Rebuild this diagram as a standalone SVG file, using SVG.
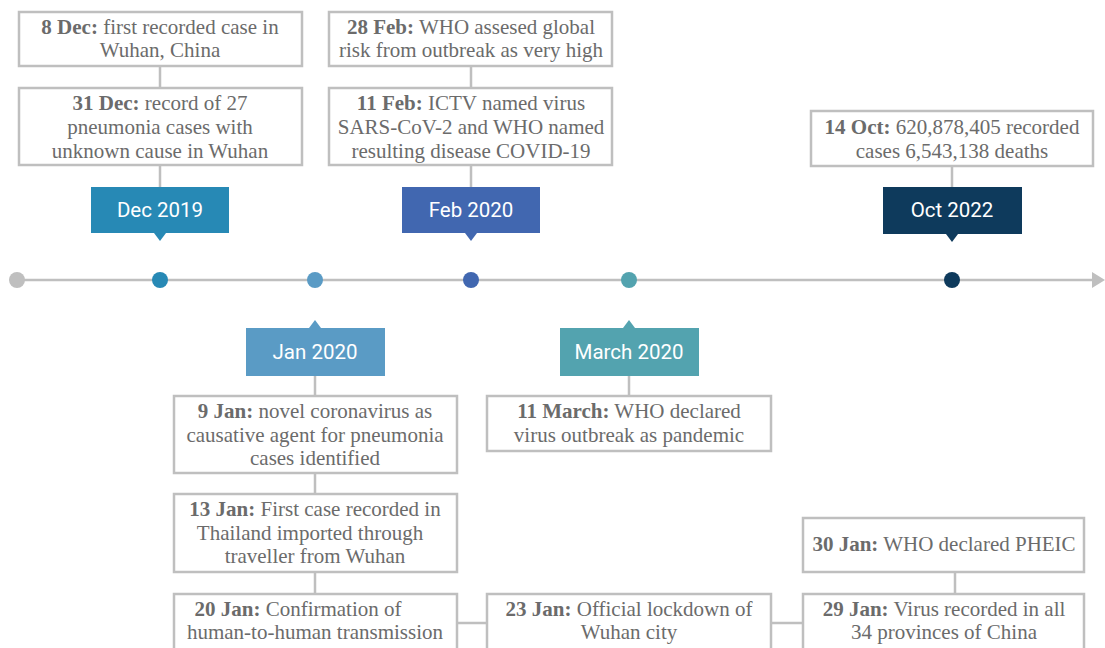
<svg xmlns="http://www.w3.org/2000/svg" width="1105" height="648" viewBox="0 0 1105 648">
<style>
.box{fill:#fff;stroke:#bfbfbf;stroke-width:2.5}
.ev{font-family:"Liberation Serif",serif;font-size:21px;fill:#6b6b6b;text-anchor:middle}
.ev tspan.b{font-weight:bold}
.lbl{font-family:Roboto,"Liberation Sans",sans-serif;font-size:20.5px;fill:#fff;text-anchor:middle}
.conn{stroke:#bfbfbf;stroke-width:2.5;fill:none}
</style>
<rect width="1105" height="648" fill="#fff"/>
<g id="connectors">
<line class="conn" x1="17" y1="280" x2="1094" y2="280" stroke-width="3"/>
<polygon points="1092,272 1105,280 1092,288" fill="#bfbfbf"/>
<line class="conn" x1="160" y1="66" x2="160" y2="88"/>
<line class="conn" x1="160" y1="165" x2="160" y2="187"/>
<line class="conn" x1="471" y1="66" x2="471" y2="88"/>
<line class="conn" x1="471" y1="165" x2="471" y2="187"/>
<line class="conn" x1="952" y1="166" x2="952" y2="187"/>
<line class="conn" x1="315" y1="376" x2="315" y2="396"/>
<line class="conn" x1="315" y1="473" x2="315" y2="494"/>
<line class="conn" x1="315" y1="572" x2="315" y2="594"/>
<line class="conn" x1="629" y1="376" x2="629" y2="396"/>
<line class="conn" x1="457" y1="623" x2="487" y2="623"/>
<line class="conn" x1="771" y1="623" x2="803" y2="623"/>
<line class="conn" x1="955" y1="572" x2="955" y2="594"/>
</g>
<g id="dots">
<circle cx="17" cy="280" r="8" fill="#bfbfbf"/>
<circle cx="160" cy="280" r="8" fill="#2789b5"/>
<circle cx="315" cy="280" r="8" fill="#5a9bc5"/>
<circle cx="471" cy="280" r="8" fill="#4167b0"/>
<circle cx="629" cy="280" r="8" fill="#53a3af"/>
<circle cx="952" cy="280" r="8" fill="#0e3a5c"/>
</g>
<g id="dec2019">
<path d="M91,187 H229 V233 H166 L160,241 L154,233 H91 Z" fill="#2789b5"/>
<text class="lbl" x="160" y="217">Dec 2019</text>
</g>
<g id="feb2020">
<path d="M402,187 H540 V233 H477 L471,241 L465,233 H402 Z" fill="#4167b0"/>
<text class="lbl" x="471" y="217">Feb 2020</text>
</g>
<g id="oct2022">
<path d="M883,187 H1022 V234 H958 L952,242 L946,234 H883 Z" fill="#0e3a5c"/>
<text class="lbl" x="952" y="217">Oct 2022</text>
</g>
<g id="jan2020">
<path d="M246,328 H309 L315,320 L321,328 H385 V376 H246 Z" fill="#5a9bc5"/>
<text class="lbl" x="315" y="359">Jan 2020</text>
</g>
<g id="mar2020">
<path d="M560,328 H623 L629,320 L635,328 H699 V376 H560 Z" fill="#53a3af"/>
<text class="lbl" x="629" y="359">March 2020</text>
</g>
<g id="ev-8dec">
<rect class="box" x="19" y="12" width="283" height="54"/>
<text class="ev" x="160" y="34"><tspan class="b">8 Dec:</tspan> first recorded case in</text>
<text class="ev" x="160" y="57">Wuhan, China</text>
</g>
<g id="ev-31dec">
<rect class="box" x="19" y="88" width="283" height="77"/>
<text class="ev" x="160" y="110"><tspan class="b">31 Dec:</tspan> record of 27</text>
<text class="ev" x="160" y="134">pneumonia cases with</text>
<text class="ev" x="160" y="158">unknown cause in Wuhan</text>
</g>
<g id="ev-28feb">
<rect class="box" x="329" y="12" width="283" height="54"/>
<text class="ev" x="471" y="34"><tspan class="b">28 Feb:</tspan> WHO assesed global</text>
<text class="ev" x="471" y="57">risk from outbreak as very high</text>
</g>
<g id="ev-11feb">
<rect class="box" x="329" y="88" width="283" height="77"/>
<text class="ev" x="471" y="110"><tspan class="b">11 Feb:</tspan> ICTV named virus</text>
<text class="ev" x="471" y="134">SARS-CoV-2 and WHO named</text>
<text class="ev" x="471" y="158">resulting disease COVID-19</text>
</g>
<g id="ev-14oct">
<rect class="box" x="811" y="111" width="282" height="55"/>
<text class="ev" x="952" y="134"><tspan class="b">14 Oct:</tspan> 620,878,405 recorded</text>
<text class="ev" x="952" y="158">cases 6,543,138 deaths</text>
</g>
<g id="ev-9jan">
<rect class="box" x="174" y="396" width="283" height="77"/>
<text class="ev" x="315" y="418"><tspan class="b">9 Jan:</tspan> novel coronavirus as</text>
<text class="ev" x="315" y="442">causative agent for pneumonia</text>
<text class="ev" x="315" y="465">cases identified</text>
</g>
<g id="ev-13jan">
<rect class="box" x="174" y="494" width="283" height="78"/>
<text class="ev" x="315" y="516"><tspan class="b">13 Jan:</tspan> First case recorded in</text>
<text class="ev" x="310" y="540">Thailand imported through</text>
<text class="ev" x="315" y="563">traveller from Wuhan</text>
</g>
<g id="ev-20jan">
<rect class="box" x="174" y="594" width="283" height="70"/>
<text class="ev" x="298" y="616"><tspan class="b">20 Jan:</tspan> Confirmation of</text>
<text class="ev" x="315" y="639">human-to-human transmission</text>
</g>
<g id="ev-11mar">
<rect class="box" x="487" y="396" width="284" height="55"/>
<text class="ev" x="629" y="418"><tspan class="b">11 March:</tspan> WHO declared</text>
<text class="ev" x="629" y="442">virus outbreak as pandemic</text>
</g>
<g id="ev-23jan">
<rect class="box" x="487" y="594" width="284" height="70"/>
<text class="ev" x="629" y="616"><tspan class="b">23 Jan:</tspan> Official lockdown of</text>
<text class="ev" x="629" y="639">Wuhan city</text>
</g>
<g id="ev-30jan">
<rect class="box" x="803" y="518" width="281" height="54"/>
<text class="ev" x="944" y="551"><tspan class="b">30 Jan:</tspan> WHO declared PHEIC</text>
</g>
<g id="ev-29jan">
<rect class="box" x="803" y="594" width="281" height="70"/>
<text class="ev" x="944" y="616"><tspan class="b">29 Jan:</tspan> Virus recorded in all</text>
<text class="ev" x="944" y="639">34 provinces of China</text>
</g>
</svg>
